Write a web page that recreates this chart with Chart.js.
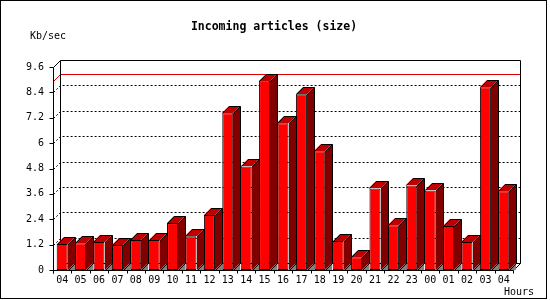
<!DOCTYPE html>
<html><head><meta charset="utf-8">
<script src="https://cdn.jsdelivr.net/npm/chart.js@4/dist/chart.umd.min.js"></script>
<style>html,body{margin:0;padding:0;background:#fff}canvas{display:block}</style>
</head><body>
<canvas id="c" width="550" height="300"></canvas>
<script>
const hours = ['04','05','06','07','08','09','10','11','12','13','14','15','16','17','18','19','20','21','22','23','00','01','02','03','04'];
const sizes = [1.23,1.27,1.32,1.18,1.42,1.42,2.22,1.60,2.60,7.41,4.90,8.96,6.94,8.31,5.62,1.37,0.60,3.86,2.12,4.00,3.76,2.08,1.32,8.64,3.72];
const yTicks = [0,1.2,2.4,3.6,4.8,6,7.2,8.4,9.6];
const titleText = 'Incoming articles (size)';
const yUnit = 'Kb/sec';
const xUnit = 'Hours';

const DEPTH = 7;
const MONO = '"DejaVu Sans Mono", monospace';
const px = v => Math.round(v) + 0.5;

const threeD = {
  id: 'threeD',
  beforeDraw(chart) {
    const {ctx, width, height} = chart;
    ctx.save(); ctx.fillStyle = '#fff'; ctx.fillRect(0, 0, width, height); ctx.restore();
  },
  beforeDatasetsDraw(chart) {
    const {ctx, chartArea: a, scales: {y}} = chart;
    const L = px(a.left), R = px(a.right), T = px(a.top), B = px(a.bottom), D = DEPTH;
    ctx.save();
    ctx.lineWidth = 1; ctx.strokeStyle = '#000';
    ctx.setLineDash([2, 2]);
    yTicks.forEach((v, i) => {
      if (i === 0 || i === yTicks.length - 1) return;
      const yy = px(y.getPixelForValue(v));
      ctx.beginPath(); ctx.moveTo(L, yy); ctx.lineTo(L + D, yy - D); ctx.lineTo(R + D, yy - D); ctx.stroke();
    });
    ctx.setLineDash([]);
    const m = px(y.getPixelForValue(Math.max(...sizes)));
    ctx.strokeStyle = '#e00000';
    ctx.beginPath(); ctx.moveTo(L, m); ctx.lineTo(L + D, m - D); ctx.lineTo(R + D, m - D); ctx.stroke();
    ctx.strokeStyle = '#000';
    ctx.beginPath();
    ctx.moveTo(L, T); ctx.lineTo(L + D, T - D); ctx.lineTo(R + D, T - D); ctx.lineTo(R + D, B - D); ctx.lineTo(R, B);
    ctx.moveTo(L + D, T - D); ctx.lineTo(L + D, B - D); ctx.lineTo(R + D, B - D);
    ctx.stroke();
    ctx.restore();
  },
  afterDatasetsDraw(chart) {
    const {ctx, chartArea: a, scales: {x, y}} = chart;
    const L = px(a.left), R = px(a.right), T = px(a.top), B = px(a.bottom), D = DEPTH;
    const meta = chart.getDatasetMeta(0);
    ctx.save();
    ctx.lineWidth = 1; ctx.strokeStyle = '#000'; ctx.lineJoin = 'miter';
    meta.data.forEach(el => {
      const xl = Math.round(el.x - el.width / 2), xr = Math.round(el.x + el.width / 2);
      const top = Math.round(el.y), base = Math.round(el.base);
      // floor triangle
      ctx.fillStyle = '#808080';
      ctx.beginPath(); ctx.moveTo(xr, base); ctx.lineTo(xr + D, base - D); ctx.lineTo(xr + D, base); ctx.closePath(); ctx.fill();
      // side
      ctx.fillStyle = '#800000';
      ctx.beginPath(); ctx.moveTo(xr, top); ctx.lineTo(xr + D, top - D); ctx.lineTo(xr + D, base - D); ctx.lineTo(xr, base); ctx.closePath(); ctx.fill();
      // top
      ctx.fillStyle = '#c00000';
      ctx.beginPath(); ctx.moveTo(xl, top); ctx.lineTo(xl + D, top - D); ctx.lineTo(xr + D, top - D); ctx.lineTo(xr, top); ctx.closePath(); ctx.fill();
      ctx.beginPath();
      ctx.moveTo(xl + .5, top + .5); ctx.lineTo(xl + D + .5, top - D + .5); ctx.lineTo(xr + D + .5, top - D + .5);
      ctx.lineTo(xr + D + .5, base - D + .5); ctx.lineTo(xr + .5, base + .5);
      ctx.moveTo(xr + .5, top + .5); ctx.lineTo(xr + D + .5, top - D + .5);
      ctx.stroke();
    });
    // front axes
    ctx.beginPath();
    ctx.moveTo(L, T); ctx.lineTo(L, B + 3);
    ctx.moveTo(L, B); ctx.lineTo(R, B);
    yTicks.forEach(v => { const yy = px(y.getPixelForValue(v)); ctx.moveTo(L - 4, yy); ctx.lineTo(L, yy); });
    const step = x.getPixelForValue(1) - x.getPixelForValue(0);
    for (let i = 0; i <= hours.length; i++) {
      const xx = px(x.getPixelForValue(0) - step / 2 + i * step);
      ctx.moveTo(xx, B); ctx.lineTo(xx, B + 3);
    }
    ctx.stroke();
    ctx.restore();
  },
  afterDraw(chart) {
    const {ctx} = chart;
    ctx.save();
    ctx.fillStyle = '#000';
    ctx.textBaseline = 'middle';
    ctx.font = 'bold 11.5px ' + MONO;
    ctx.textAlign = 'center';
    ctx.fillText(titleText, 274, 27);
    ctx.font = '10px ' + MONO;
    ctx.textAlign = 'left';
    ctx.fillText(yUnit, 30, 36);
    ctx.textAlign = 'right';
    ctx.fillText(xUnit, 534, 292);
    ctx.strokeStyle = '#000'; ctx.lineWidth = 1;
    ctx.strokeRect(0.5, 0.5, 546, 298);
    ctx.restore();
  }
};

new Chart(document.getElementById('c'), {
  type: 'bar',
  data: {
    labels: hours,
    datasets: [{
      data: sizes,
      backgroundColor: '#ff0000',
      borderColor: '#000',
      borderWidth: 1,
      borderSkipped: false,
      barPercentage: 0.6,
      categoryPercentage: 1
    }]
  },
  options: {
    responsive: false,
    animation: false,
    devicePixelRatio: 1,
    layout: { padding: { top: 67, right: 37, left: 0, bottom: 0 } },
    plugins: { legend: { display: false }, tooltip: { enabled: false }, title: { display: false } },
    scales: {
      x: {
        grid: { display: false, drawTicks: false },
        border: { display: false },
        ticks: { font: { family: MONO, size: 10 }, color: '#000', padding: 4, autoSkip: false, maxRotation: 0 },
        afterFit: s => { s.height = 30; }
      },
      y: {
        min: 0, max: 9.6,
        afterBuildTicks: s => { s.ticks = yTicks.map(v => ({ value: v })); },
        grid: { display: false, drawTicks: false },
        border: { display: false },
        ticks: { font: { family: MONO, size: 10 }, color: '#000', padding: 9, callback: v => String(v) },
        afterFit: s => { s.width = 53; }
      }
    }
  },
  plugins: [threeD]
});
</script>
</body></html>
